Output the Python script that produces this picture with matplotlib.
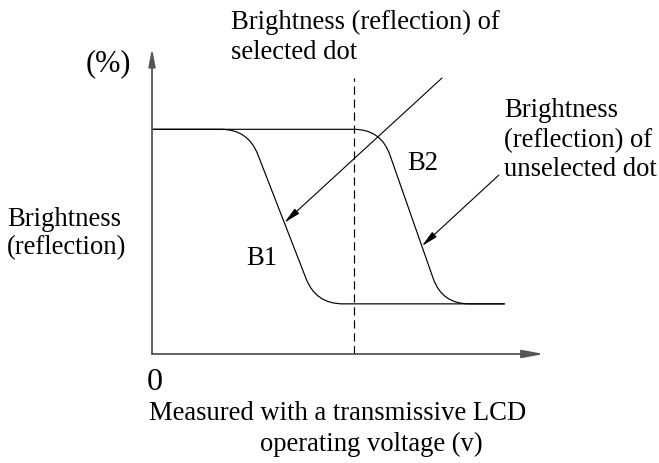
import numpy as np
import matplotlib
matplotlib.use("Agg")
import matplotlib.pyplot as plt
from matplotlib.path import Path
from matplotlib.patches import PathPatch

plt.rcParams['font.family'] = ['Liberation Serif', 'DejaVu Serif']

# corner points of the two brightness curves (voltage units, brightness %)
b1_v = [0.0, 2.45, 4.18, 9.0]
b1_b = [73.5, 73.5, 16.4, 16.4]
b2_v = [0.0, 5.84, 7.40, 9.0]
b2_b = [73.5, 73.5, 16.4, 16.4]

v_select = 5.15      # dashed operating voltage line
v_axis_end = 10.0
b_axis_end = 100.0

# leader arrows: start point and brightness where they hit the curve
lead1_start = (7.40, 90.3)
lead1_hit_b = 42.95
lead2_start = (8.85, 58.55)
lead2_hit_b = 35.3

W, H = 659, 463
fig = plt.figure(figsize=(W / 100, H / 100), dpi=100)
ax = fig.add_axes([0, 0, 1, 1])
ax.set_xlim(-3.878, 12.934)
ax.set_ylim(-35.66, 115.8)
ax.axis('off')


def rounded_path(xs, ys, r=27):
    # polyline with rounded corners, radius r in pixels
    pts = ax.transData.transform(np.column_stack([xs, ys]))
    verts = [pts[0]]
    codes = [Path.MOVETO]
    for i in range(1, len(pts) - 1):
        p0, p1, p2 = pts[i - 1], pts[i], pts[i + 1]
        d1 = (p0 - p1) / np.linalg.norm(p0 - p1)
        d2 = (p2 - p1) / np.linalg.norm(p2 - p1)
        verts += [p1 + d1 * r, p1, p1 + d2 * r]
        codes += [Path.LINETO, Path.CURVE3, Path.CURVE3]
    verts.append(pts[-1])
    codes.append(Path.LINETO)
    return Path(ax.transData.inverted().transform(np.array(verts)), codes)


def x_on(xs, ys, b):
    # voltage on the steep part of a curve at brightness b
    return np.interp(b, [ys[2], ys[1]], [xs[2], xs[1]])


for xs, ys in [(b1_v, b1_b), (b2_v, b2_b)]:
    ax.add_patch(PathPatch(rounded_path(xs, ys), fill=False, lw=0.85, color='black'))

# axes with arrows
axis_col = '#555555'
ax.annotate('', xy=(0, b_axis_end), xytext=(0, 0),
            arrowprops=dict(arrowstyle='-|>,head_length=1.05,head_width=0.2', color=axis_col,
                            lw=1.3, shrinkA=0, shrinkB=0, mutation_scale=10))
ax.annotate('', xy=(v_axis_end, 0), xytext=(0, 0),
            arrowprops=dict(arrowstyle='-|>,head_length=1.3,head_width=0.24', color=axis_col,
                            lw=1.3, shrinkA=0, shrinkB=0, mutation_scale=10))

ax.plot([v_select, v_select], [0, 90.3], color='black', lw=0.85, ls=(0, (7, 4)))

lead = dict(arrowstyle='-|>,head_length=1.0,head_width=0.2', color='black', lw=0.8,
            shrinkA=0, shrinkB=0, mutation_scale=10)
ax.annotate('', xy=(x_on(b1_v, b1_b, lead1_hit_b), lead1_hit_b), xytext=lead1_start, arrowprops=lead)
ax.annotate('', xy=(x_on(b2_v, b2_b, lead2_hit_b), lead2_hit_b), xytext=lead2_start, arrowprops=lead)


def txt(x, y, s, ha='left', size=19.2):
    # x, y in pixels from top-left, y is the text baseline
    fig.text(x / W, 1 - y / H, s, ha=ha, va='baseline', fontsize=size, color='black')


txt(231, 29, 'Brightness (reflection) of')
txt(231, 59, 'selected dot')
txt(86, 71, '(%)', size=22)
txt(504, 117, 'Brightness')
txt(504, 147, '(reflection) of')
txt(504, 176, 'unselected dot')
txt(423, 170, 'B2', ha='center')
txt(262, 265, 'B1', ha='center')
txt(7, 226, 'Brightness')
txt(7, 254, '(reflection)')
txt(147, 390, '0', size=23)
txt(149, 420, 'Measured with a transmissive LCD')
txt(260, 451, 'operating voltage (v)')

fig.savefig('out.png', dpi=100)
